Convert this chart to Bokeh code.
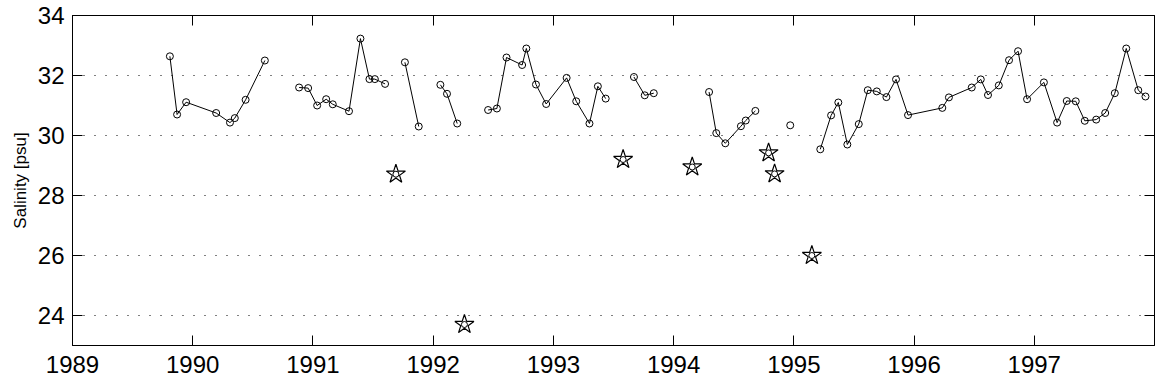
import math
from bokeh.plotting import figure
from bokeh.models import LinearAxis, FixedTicker, Range1d
from bokeh.embed import file_html
from bokeh.resources import INLINE

NaN = float("nan")

# Main salinity series (NaN separates the gaps between measurement runs)
years = [
    1989.81, 1989.87, 1989.945, 1990.195, 1990.31, 1990.35, 1990.44, 1990.60, NaN,
    1990.885, 1990.96, 1991.035, 1991.11, 1991.165, 1991.30, 1991.395, 1991.47, 1991.515, 1991.60, NaN,
    1991.765, 1991.88, NaN,
    1992.06, 1992.115, 1992.20, NaN,
    1992.457, 1992.53, 1992.61, 1992.74, 1992.775, 1992.855, 1992.94, 1993.11, 1993.19, 1993.30, 1993.37, 1993.435, NaN,
    1993.67, 1993.76, 1993.835, NaN,
    1994.295, 1994.355, 1994.43, 1994.56, 1994.60, 1994.68, NaN,
    1994.97, NaN,
    1995.22, 1995.31, 1995.37, 1995.445, 1995.54, 1995.615, 1995.69, 1995.77, 1995.85, 1995.95,
    1996.235, 1996.29, 1996.48, 1996.555, 1996.615, 1996.705, 1996.79, 1996.865, 1996.94,
    1997.08, 1997.19, 1997.27, 1997.345, 1997.42, 1997.515, 1997.59, 1997.67, 1997.765, 1997.865, 1997.925,
]
salinity = [
    32.64, 30.70, 31.11, 30.75, 30.43, 30.58, 31.19, 32.50, NaN,
    31.60, 31.58, 31.00, 31.21, 31.04, 30.81, 33.23, 31.88, 31.88, 31.72, NaN,
    32.44, 30.30, NaN,
    31.69, 31.39, 30.40, NaN,
    30.85, 30.90, 32.60, 32.35, 32.90, 31.70, 31.05, 31.92, 31.14, 30.40, 31.64, 31.23, NaN,
    31.95, 31.34, 31.41, NaN,
    31.45, 30.08, 29.74, 30.31, 30.50, 30.82, NaN,
    30.34, NaN,
    29.54, 30.67, 31.10, 29.70, 30.38, 31.51, 31.47, 31.28, 31.87, 30.68,
    30.92, 31.27, 31.60, 31.87, 31.35, 31.67, 32.51, 32.81, 31.21,
    31.77, 30.43, 31.15, 31.14, 30.49, 30.53, 30.75, 31.41, 32.90, 31.51, 31.30,
]

# Star-marked low-salinity events
star_years = [1991.69, 1992.26, 1993.58, 1994.155, 1994.79, 1994.84, 1995.15]
star_salinity = [28.71, 23.70, 29.20, 28.95, 29.42, 28.72, 26.00]

x_ticks = [1989, 1990, 1991, 1992, 1993, 1994, 1995, 1996, 1997]
y_ticks = [24, 26, 28, 30, 32, 34]

FONT = "Liberation Sans"

p = figure(width=1155, height=385, output_backend="svg", toolbar_location=None,
           x_range=Range1d(1989, 1998), y_range=Range1d(23, 34),
           min_border_left=72, min_border_right=1, min_border_top=15, min_border_bottom=40)

p.outline_line_color = "black"
p.outline_line_width = 1

def style_axis(ax, labels=True, ticks=None):
    ax.major_tick_in = 10
    ax.major_tick_out = 0
    ax.minor_tick_line_color = None
    ax.axis_line_color = "black"
    ax.axis_line_width = 1
    ax.major_tick_line_color = "black"
    ax.major_tick_line_width = 1
    if labels:
        ax.major_label_text_font = FONT
        ax.major_label_text_font_size = "24px"
        ax.major_label_text_color = "black"
        ax.major_label_standoff = 6
    else:
        ax.major_label_overrides = {t: "" for t in ticks}
        ax.major_label_text_color = None
        ax.major_label_text_font_size = "1px"
        ax.major_label_standoff = 0

p.xaxis.ticker = FixedTicker(ticks=x_ticks)
p.yaxis.ticker = FixedTicker(ticks=y_ticks)
style_axis(p.xaxis[0])
style_axis(p.yaxis[0])
p.xaxis.major_label_standoff = 10
p.yaxis.major_label_standoff = 8
p.yaxis.axis_label = "Salinity [psu]"
p.yaxis.axis_label_text_font = FONT
p.yaxis.axis_label_text_font_size = "17px"
p.yaxis.axis_label_text_font_style = "normal"
p.yaxis.axis_label_text_color = "black"
p.yaxis.axis_label_standoff = 5

top = LinearAxis(ticker=FixedTicker(ticks=x_ticks))
style_axis(top, labels=False, ticks=x_ticks)
p.add_layout(top, "above")
right = LinearAxis(ticker=FixedTicker(ticks=y_ticks))
style_axis(right, labels=False, ticks=y_ticks)
p.add_layout(right, "right")

p.xgrid.visible = False
p.ygrid.grid_line_color = "black"
p.ygrid.grid_line_dash = "1 10"
p.ygrid.grid_line_width = 1

p.line(years, salinity, line_color="black", line_width=1)
px = [x for x in years if not math.isnan(x)]
py = [y for y in salinity if not math.isnan(y)]
p.scatter(px, py, marker="circle", size=7, fill_color=None, line_color="black", line_width=1)
p.scatter(star_years, star_salinity, marker="star", size=20, fill_color="white",
          line_color="black", line_width=1.2)
p.scatter(star_years, star_salinity, marker="circle", size=6, fill_color=None,
          line_color="black", line_width=1)

open("out.html", "w").write(file_html(p, INLINE))
